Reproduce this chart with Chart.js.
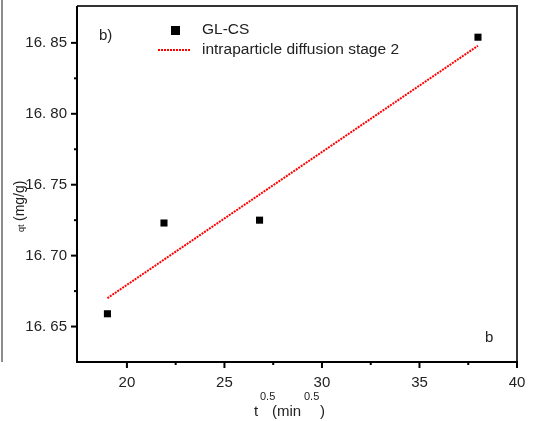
<!DOCTYPE html>
<html>
<head>
<meta charset="utf-8">
<script src="https://cdn.jsdelivr.net/npm/chart.js@4/dist/chart.umd.min.js"></script>
<style>
  html, body { margin: 0; padding: 0; background: #fff; }
  #wrap { width: 533px; height: 421px; position: relative; }
</style>
</head>
<body>
<div id="wrap"><canvas id="kinetics"></canvas></div>
<script>
// intraparticle diffusion, stage 2 (GL-CS)

const tSqrt   = [19.0, 21.9, 26.8, 38.0];
const qt      = [16.659, 16.723, 16.725, 16.854];
const fitX    = [19.0, 38.0];
const fitY    = [16.670, 16.848];

const xMajor  = [20, 25, 30, 35, 40];
const xMinor  = [22.5, 27.5, 32.5, 37.5];
const yMajor  = [16.65, 16.70, 16.75, 16.80, 16.85];
const yMinor  = [16.675, 16.725, 16.775, 16.825];

const FONT = '"Liberation Sans", Arial, sans-serif';

// frame, ticks, titles and the hand-placed legend
const decor = {
  id: 'decor',
  afterDraw(chart) {
    const { ctx, chartArea: a, scales: { x, y } } = chart;
    ctx.save();

    // outer frame
    ctx.strokeStyle = '#333';
    ctx.lineWidth = 2;
    ctx.beginPath();
    ctx.moveTo(a.left, a.top); ctx.lineTo(a.right, a.top); ctx.lineTo(a.right, a.bottom);
    ctx.stroke();
    ctx.strokeStyle = '#000';
    ctx.beginPath();
    ctx.moveTo(a.left, a.top); ctx.lineTo(a.left, a.bottom); ctx.lineTo(a.right + 1, a.bottom);
    ctx.stroke();

    // ticks
    ctx.lineWidth = 2;
    xMajor.forEach(v => { const p = x.getPixelForValue(v); ctx.beginPath(); ctx.moveTo(p, a.bottom); ctx.lineTo(p, a.bottom + 6); ctx.stroke(); });
    xMinor.forEach(v => { const p = x.getPixelForValue(v); ctx.beginPath(); ctx.moveTo(p, a.bottom); ctx.lineTo(p, a.bottom + 3); ctx.stroke(); });
    yMajor.forEach(v => { const p = y.getPixelForValue(v); ctx.beginPath(); ctx.moveTo(a.left, p); ctx.lineTo(a.left - 6, p); ctx.stroke(); });
    yMinor.forEach(v => { const p = y.getPixelForValue(v); ctx.beginPath(); ctx.moveTo(a.left, p); ctx.lineTo(a.left - 3, p); ctx.stroke(); });

    // left crop line
    ctx.strokeStyle = '#666';
    ctx.lineWidth = 1.5;
    ctx.beginPath(); ctx.moveTo(2, 0); ctx.lineTo(2, 362); ctx.stroke();

    ctx.fillStyle = '#222';
    ctx.textBaseline = 'middle';

    // panel labels
    ctx.font = '15px ' + FONT;
    ctx.textAlign = 'left';
    ctx.fillText('b)', 99, 36);
    ctx.fillText('b', 485, 338);

    // legend
    ctx.fillStyle = '#000';
    ctx.fillRect(171, 26, 9, 9);
    ctx.strokeStyle = '#ff0000';
    ctx.lineWidth = 2;
    ctx.setLineDash([2, 1]);
    ctx.beginPath(); ctx.moveTo(158, 50); ctx.lineTo(191, 50); ctx.stroke();
    ctx.setLineDash([]);
    ctx.fillStyle = '#222';
    ctx.font = '15.5px ' + FONT;
    ctx.fillText('GL-CS', 202, 30);
    ctx.fillText('intraparticle diffusion stage 2', 202, 50);

    // x title
    ctx.textBaseline = 'alphabetic';
    ctx.font = '15px ' + FONT;
    ctx.fillText('t', 254, 416);
    ctx.fillText('(min', 272, 416);
    ctx.fillText(')', 320, 416);
    ctx.font = '11px ' + FONT;
    ctx.fillText('0.5', 260, 400);
    ctx.fillText('0.5', 304, 400);

    // y title
    ctx.save();
    ctx.translate(20, 0);
    ctx.rotate(-Math.PI / 2);
    ctx.textBaseline = 'middle';
    ctx.font = '14px ' + FONT;
    ctx.textAlign = 'left';
    ctx.fillText('(mg/g)', -221, 0);
    ctx.font = '9px ' + FONT;
    ctx.fillText('qt', -232, 2);
    ctx.restore();

    ctx.restore();
  }
};

new Chart(document.getElementById('kinetics'), {
  data: {
    datasets: [
      {
        type           : 'scatter',
        label          : 'GL-CS',
        data           : tSqrt.map((t, i) => ({ x: t, y: qt[i] })),
        pointStyle     : 'rect',
        pointRadius    : 5,
        backgroundColor: '#000',
        borderColor    : '#000',
        borderWidth    : 0
      },
      {
        type       : 'line',
        label      : 'intraparticle diffusion stage 2',
        data       : fitX.map((t, i) => ({ x: t, y: fitY[i] })),
        borderColor: '#ff0000',
        borderWidth: 2,
        borderDash : [2, 1],
        pointRadius: 0,
        fill       : false
      }
    ]
  },
  options: {
    responsive         : true,
    maintainAspectRatio: false,
    animation          : false,
    layout: { padding: { top: 6, right: 16, left: 0, bottom: 0 } },
    plugins: { legend: { display: false }, tooltip: { enabled: false } },
    scales: {
      x: {
        type  : 'linear',
        min   : 17.44,
        max   : 40,
        afterBuildTicks: s => { s.ticks = xMajor.map(v => ({ value: v })); },
        afterFit: s => { s.height = 59; s.paddingLeft = 0; s.paddingRight = 0; },
        grid  : { display: false },
        border: { display: false },
        ticks : { color: '#222', font: { family: FONT, size: 15 }, padding: 4, maxRotation: 0 }
      },
      y: {
        type  : 'linear',
        min   : 16.625,
        max   : 16.876,
        afterBuildTicks: s => { s.ticks = yMajor.map(v => ({ value: v })); },
        afterFit: s => { s.width = 77; s.paddingTop = 0; s.paddingBottom = 0; },
        grid  : { display: false },
        border: { display: false },
        ticks : {
          color   : '#222',
          font    : { family: FONT, size: 15 },
          padding : 2,
          callback: v => v.toFixed(2).replace('.', '. ')
        }
      }
    }
  },
  plugins: [decor]
});
</script>
</body>
</html>
